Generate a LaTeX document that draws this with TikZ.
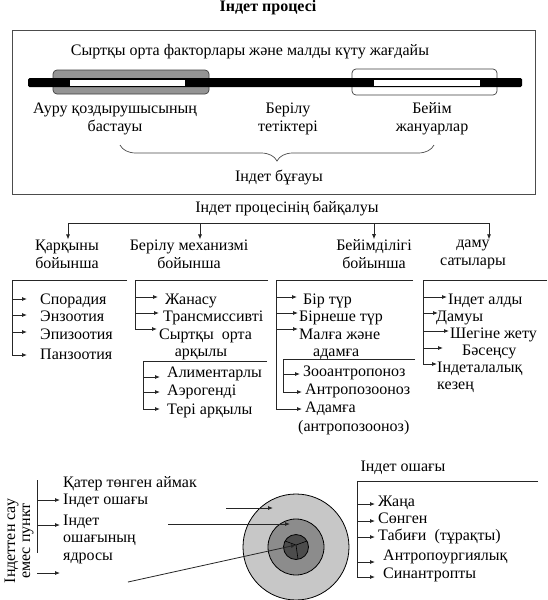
\documentclass[tikz,border=0pt]{standalone}
\usepackage{fontspec}
\setmainfont{Liberation Serif}
\usetikzlibrary{arrows.meta,decorations.pathreplacing}
\newcommand\fsz{\fontsize{16}{18}\selectfont}
\begin{document}
\begin{tikzpicture}[x=1pt,y=-1pt,
  every node/.style={font=\fsz, inner sep=0pt},
  item/.style={anchor=west, text height=11pt, text depth=4pt},
  twoline/.style={align=center},
  ln/.style={line width=0.8pt, draw=black!85},
  arr/.style={line width=0.8pt, draw=black!85, -{Latex[length=5pt,width=4pt]}},
]
\useasboundingbox (0,0) rectangle (547,600);
\fill[white] (0,0) rectangle (547,600);

% ---------- title and top box ----------
\node[font=\fsz\bfseries] (title) at (268,8) {Індет процесі};
\draw[line width=0.9pt, draw=black!70] (12,30) rectangle (535,194);
\node (env) at (250,52) {Сыртқы орта факторлары және малды күту жағдайы};

% bar
\draw[rounded corners=4pt, fill=black!42, draw=black!75, line width=0.7pt] (53,70) rectangle (209,94);
\draw[rounded corners=4pt, fill=white, draw=black!75, line width=0.7pt] (352,69) rectangle (497,95);
\fill[black, rounded corners=1.5pt] (28,78) rectangle (522,87);
\fill[white] (70,79.5) rectangle (185,85.5);
\fill[white] (374,79.5) rectangle (480,85.5);

\node[twoline] (src) at (115,119) {Ауру қоздырушысының\\бастауы};
\node[twoline] (mech) at (288,119) {Берілу\\тетіктері};
\node[twoline] (host) at (432,119) {Бейім\\жануарлар};
\coordinate (brL) at (120,145);
\coordinate (brR) at (434,145);
\draw[line width=0.7pt, draw=black!70, decorate, decoration={brace, mirror, amplitude=16pt}] (brL) -- (brR);
\node (chain) at (279,177) {Індет бұғауы};

% ---------- manifestation ----------
\node (manif) at (287,208) {Індет процесінің байқалуы};
\coordinate (h1) at (68,223);
\coordinate (h2) at (200,223);
\coordinate (h3) at (374,223);
\coordinate (h4) at (489,223);
\draw[ln] (h1) -- (h4);
\node[twoline] (cat1) at (67,254) {Қарқыны\\бойынша};
\node[twoline] (cat2) at (189,254) {Берілу механизмі\\бойынша};
\node[twoline] (cat3) at (374,254) {Бейімділігі\\бойынша};
\node[twoline] (cat4) at (473,254) {даму\\сатылары};
\draw[arr] (h1) -- (h1 |- cat1.north);
\draw[arr] (h2) -- (h2 |- cat2.north);
\draw[arr] (h3) -- (h3 |- cat3.north);
\draw[arr] (h4) -- (h4 |- cat4.north);

% ---------- column 1 ----------
\coordinate (v1) at (12,280);
\coordinate (v1e) at (127,280);
\node[item] (a1) at (40,301) {Спорадия};
\node[item] (a2) at (40,318) {Энзоотия};
\node[item] (a3) at (40,336) {Эпизоотия};
\node[item] (a4) at (40,356) {Панзоотия};
\coordinate (a1t) at (27,299);
\coordinate (a2t) at (27,315);
\coordinate (a3t) at (27,332);
\coordinate (a4t) at (27,355);
\draw[ln] (v1e) -- (v1) -- (v1 |- a4t);
\foreach \t in {a1t,a2t,a3t,a4t} \draw[arr] (v1 |- \t) -- (\t);

% ---------- column 2 ----------
\coordinate (v2) at (135,280);
\coordinate (v2e) at (268,280);
\node[item] (b1) at (165,301) {Жанасу};
\node[item] (b2) at (163,318) {Трансмиссивті};
\node[item] (b3) at (159,336) {Сыртқы~ орта};
\node (b3b) at (201,354) {арқылы};
\coordinate (b1t) at (158,297);
\coordinate (b2t) at (159,313);
\coordinate (b3t) at (157,329);
\draw[ln] (v2e) -- (v2) -- (v2 |- b3t);
\foreach \t in {b1t,b2t,b3t} \draw[arr] (v2 |- \t) -- (\t);
\coordinate (w2) at (143,361);
\coordinate (w2e) at (267,361);
\node[item] (c1) at (167,374) {Алиментарлы};
\node[item] (c2) at (167,392) {Аэрогенді};
\node[item] (c3) at (167,411) {Тері арқылы};
\coordinate (c1t) at (160,377);
\coordinate (c2t) at (160,392);
\coordinate (c3t) at (160,409);
\draw[ln] (w2e) -- (w2) -- (w2 |- c3t);
\foreach \t in {c1t,c2t,c3t} \draw[arr] (w2 |- \t) -- (\t);

% ---------- column 3 ----------
\coordinate (v3) at (276,280);
\coordinate (v3e) at (413,280);
\node[item] (d1) at (303,301) {Бір түр};
\node[item] (d2) at (299,318) {Бірнеше түр};
\node[item] (d3) at (299,336) {Малға және};
\node[item] (d3b) at (313,353) {адамға};
\coordinate (d1t) at (297,297);
\coordinate (d2t) at (298,313);
\coordinate (d3t) at (298,329);
\coordinate (w3) at (283,359);
\coordinate (w3e) at (415,359);
\node[item] (e1) at (303,373) {Зооантропоноз};
\node[item] (e2) at (305,391) {Антропозооноз};
\coordinate (e1t) at (300,374);
\coordinate (e2t) at (302,392);
\node[item] (d4) at (305,409) {Адамға};
\node[item] (d4b) at (298,428) {(антропозооноз)};
\coordinate (d4t) at (302,409);
\draw[ln] (v3e) -- (v3) -- (v3 |- d4t);
\foreach \t in {d1t,d2t,d3t,d4t} \draw[arr] (v3 |- \t) -- (\t);
\draw[ln] (w3e) -- (w3) -- (w3 |- e2t);
\foreach \t in {e1t,e2t} \draw[arr] (w3 |- \t) -- (\t);

% ---------- column 4 ----------
\coordinate (v4) at (423,280);
\coordinate (v4e) at (547,280);
\node[item] (f1) at (448,301) {Індет алды};
\node[item] (f2) at (436,318) {Дамуы};
\node[item] (f3) at (450,335) {Шегіне жету};
\node[item] (f4) at (462,352) {Бәсеңсу};
\node[item] (f5) at (437,369) {Індеталалық};
\node[item] (f5b) at (437,386) {кезең};
\coordinate (f1t) at (447,297);
\coordinate (f2t) at (438,313);
\coordinate (f3t) at (449,331);
\coordinate (f4t) at (443,348);
\coordinate (f5t) at (437,364);
\draw[ln] (v4e) -- (v4) -- (v4 |- f5t);
\foreach \t in {f1t,f2t,f3t,f4t,f5t} \draw[arr] (v4 |- \t) -- (\t);

% ---------- bottom left ----------
\node[twoline, rotate=90, font=\fontsize{16}{15}\selectfont] (pt) at (19,541) {Індеттен сау\\емес пункт};
\coordinate (v5) at (37,480);
\coordinate (v5b) at (37,553);
\draw[ln] (v5) -- (v5b);
\node[item] (g1) at (63,484) {Қатер төнген аймак};
\node[item] (g2) at (63,501) {Індет ошағы};
\node[item] (g3) at (63,522) {Індет};
\node[item] (g3b) at (63,539) {ошағының};
\node[item] (g3c) at (63,557) {ядросы};
\coordinate (g2t) at (60,500);
\coordinate (g3t) at (60,525);
\draw[arr] (v5 |- g2t) -- (g2t);
\draw[arr] (v5 |- g3t) -- (g3t);
\coordinate (g4s) at (37,573);
\coordinate (g4t) at (60,573);
\draw[arr] (g4s) -- (g4t);

% ---------- circles ----------
\node (focus) at (403,468) {Індет ошағы};
\coordinate (cc) at (296,547);
\draw[line width=0.8pt, fill=black!22] (cc) circle[radius=53];
\draw[line width=0.8pt, fill=black!45] (cc) circle[radius=28];
\draw[line width=0.8pt, fill=black!70] (cc) circle[radius=12.5];
\coordinate (y1) at (285,541);
\coordinate (y2) at (307,541);
\coordinate (y3) at (298,559);
\coordinate (yc) at (296,545);
\draw[line width=0.6pt] (yc) -- (y1) (yc) -- (y2) (yc) -- (y3);
\coordinate (k1s) at (226,508);
\coordinate (k1t) at (273,508);
\coordinate (k2s) at (168,524);
\coordinate (k2t) at (290,524);
\coordinate (k3s) at (128,582);
\draw[arr] (k1s) -- (k1t);
\draw[arr] (k2s) -- (k2t);
\draw[arr] (k3s) -- (yc);

% ---------- bottom right ----------
\coordinate (v6) at (357,481);
\coordinate (v6e) at (538,481);
\node[item] (m1) at (378,503) {Жаңа};
\node[item] (m2) at (378,520) {Сөнген};
\node[item] (m3) at (378,537) {Табиғи~ (тұрақты)};
\node[item] (m4) at (383,557) {Антропоургиялық};
\node[item] (m5) at (383,575) {Синантропты};
\coordinate (m1t) at (375,504);
\coordinate (m2t) at (375,521);
\coordinate (m3t) at (375,537);
\coordinate (m4t) at (375,562);
\coordinate (m5t) at (375,577);
\draw[ln] (v6e) -- (v6) -- (v6 |- m5t);
\foreach \t in {m1t,m2t,m3t,m4t,m5t} \draw[arr] (v6 |- \t) -- (\t);
\end{tikzpicture}
\end{document}
